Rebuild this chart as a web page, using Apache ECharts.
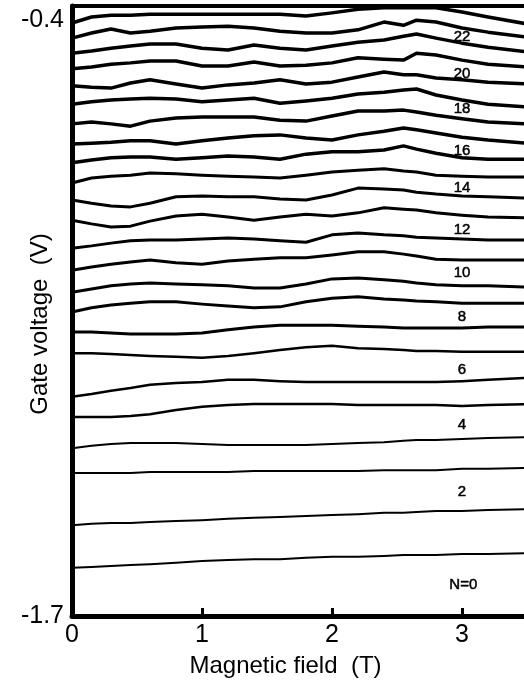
<!DOCTYPE html>
<html>
<head>
<meta charset="utf-8">
<script src="https://cdn.jsdelivr.net/npm/echarts@6/dist/echarts.min.js"></script>
<style>
html,body{margin:0;padding:0;background:#fff;}
#chart{width:524px;height:692px;}
</style>
</head>
<body>
<div id="chart"></div>
<script>
// Magnetic field grid (T)
const fieldT = [0, 0.15, 0.3, 0.45, 0.6, 0.8, 1.0, 1.2, 1.4, 1.6, 1.8, 2.0, 2.2, 2.4, 2.55, 2.65, 2.8, 3.0, 3.2, 3.5];

// Gate voltage (V) of each trace, top to bottom
const trace01 = [-0.407,-0.394,-0.390,-0.390,-0.388,-0.388,-0.388,-0.388,-0.388,-0.388,-0.392,-0.385,-0.377,-0.374,-0.374,-0.374,-0.374,-0.383,-0.394,-0.409];
const trace02 = [-0.440,-0.429,-0.420,-0.429,-0.425,-0.418,-0.416,-0.414,-0.418,-0.425,-0.429,-0.429,-0.422,-0.405,-0.412,-0.401,-0.405,-0.418,-0.427,-0.438];
const trace03 = [-0.473,-0.468,-0.462,-0.457,-0.453,-0.453,-0.462,-0.466,-0.455,-0.462,-0.466,-0.457,-0.449,-0.444,-0.436,-0.431,-0.440,-0.451,-0.460,-0.470];
const trace04 = [-0.507,-0.503,-0.497,-0.494,-0.490,-0.490,-0.501,-0.501,-0.492,-0.501,-0.499,-0.494,-0.483,-0.486,-0.488,-0.473,-0.477,-0.488,-0.497,-0.503];
const trace05 = [-0.544,-0.547,-0.549,-0.538,-0.531,-0.540,-0.549,-0.542,-0.538,-0.531,-0.540,-0.536,-0.525,-0.514,-0.520,-0.520,-0.527,-0.531,-0.536,-0.540];
const trace06 = [-0.584,-0.579,-0.575,-0.573,-0.571,-0.573,-0.579,-0.575,-0.571,-0.582,-0.577,-0.571,-0.562,-0.558,-0.553,-0.551,-0.564,-0.575,-0.584,-0.590];
const trace07 = [-0.627,-0.623,-0.627,-0.632,-0.621,-0.614,-0.612,-0.612,-0.612,-0.619,-0.621,-0.610,-0.599,-0.599,-0.597,-0.601,-0.608,-0.616,-0.623,-0.627];
const trace08 = [-0.671,-0.669,-0.667,-0.664,-0.664,-0.671,-0.664,-0.658,-0.653,-0.651,-0.658,-0.662,-0.651,-0.643,-0.636,-0.640,-0.647,-0.656,-0.662,-0.669];
const trace09 = [-0.712,-0.706,-0.701,-0.699,-0.699,-0.704,-0.701,-0.697,-0.699,-0.704,-0.693,-0.688,-0.688,-0.684,-0.675,-0.682,-0.691,-0.701,-0.704,-0.704];
const trace10 = [-0.756,-0.745,-0.741,-0.739,-0.734,-0.736,-0.739,-0.741,-0.743,-0.745,-0.739,-0.732,-0.728,-0.725,-0.730,-0.732,-0.739,-0.741,-0.743,-0.743];
const trace11 = [-0.793,-0.800,-0.806,-0.808,-0.800,-0.786,-0.784,-0.786,-0.786,-0.791,-0.793,-0.782,-0.767,-0.769,-0.771,-0.776,-0.780,-0.784,-0.786,-0.789];
const trace12 = [-0.837,-0.845,-0.852,-0.850,-0.839,-0.828,-0.824,-0.830,-0.837,-0.830,-0.824,-0.828,-0.821,-0.810,-0.813,-0.815,-0.821,-0.826,-0.830,-0.832];
const trace13 = [-0.898,-0.893,-0.887,-0.882,-0.880,-0.880,-0.878,-0.876,-0.878,-0.882,-0.885,-0.869,-0.865,-0.869,-0.871,-0.874,-0.876,-0.878,-0.880,-0.880];
const trace14 = [-0.946,-0.939,-0.933,-0.928,-0.924,-0.930,-0.933,-0.926,-0.922,-0.919,-0.919,-0.913,-0.906,-0.906,-0.911,-0.915,-0.922,-0.924,-0.924,-0.924];
const trace15 = [-0.994,-0.987,-0.980,-0.976,-0.974,-0.976,-0.978,-0.980,-0.985,-0.985,-0.976,-0.965,-0.963,-0.967,-0.970,-0.974,-0.978,-0.980,-0.980,-0.983];
const trace16 = [-1.037,-1.028,-1.022,-1.018,-1.015,-1.015,-1.020,-1.024,-1.028,-1.026,-1.015,-1.007,-1.004,-1.009,-1.011,-1.013,-1.015,-1.018,-1.018,-1.018];
const trace17 = [-1.081,-1.081,-1.083,-1.085,-1.085,-1.085,-1.083,-1.076,-1.070,-1.066,-1.066,-1.066,-1.068,-1.070,-1.072,-1.072,-1.072,-1.072,-1.070,-1.070];
const trace18 = [-1.127,-1.127,-1.129,-1.131,-1.133,-1.135,-1.137,-1.133,-1.127,-1.120,-1.114,-1.111,-1.116,-1.118,-1.120,-1.122,-1.122,-1.124,-1.124,-1.124];
const trace19 = [-1.222,-1.216,-1.209,-1.203,-1.196,-1.192,-1.190,-1.185,-1.185,-1.188,-1.190,-1.190,-1.190,-1.190,-1.190,-1.190,-1.190,-1.188,-1.185,-1.181];
const trace20 = [-1.266,-1.266,-1.266,-1.264,-1.260,-1.251,-1.244,-1.240,-1.238,-1.238,-1.238,-1.238,-1.240,-1.240,-1.240,-1.240,-1.240,-1.242,-1.240,-1.238];
const trace21 = [-1.334,-1.329,-1.325,-1.323,-1.323,-1.323,-1.325,-1.327,-1.327,-1.327,-1.327,-1.325,-1.323,-1.321,-1.318,-1.316,-1.316,-1.314,-1.312,-1.310];
const trace22 = [-1.388,-1.388,-1.388,-1.388,-1.386,-1.386,-1.386,-1.386,-1.384,-1.384,-1.384,-1.384,-1.384,-1.382,-1.382,-1.382,-1.382,-1.379,-1.379,-1.377];
const trace23 = [-1.502,-1.499,-1.497,-1.497,-1.495,-1.493,-1.491,-1.488,-1.486,-1.484,-1.482,-1.480,-1.478,-1.475,-1.475,-1.473,-1.471,-1.471,-1.469,-1.467];
const trace24 = [-1.595,-1.593,-1.591,-1.589,-1.587,-1.584,-1.580,-1.578,-1.576,-1.576,-1.573,-1.571,-1.571,-1.569,-1.567,-1.567,-1.567,-1.565,-1.565,-1.563];

const traces = [trace01,trace02,trace03,trace04,trace05,trace06,trace07,trace08,trace09,trace10,trace11,trace12,
                trace13,trace14,trace15,trace16,trace17,trace18,trace19,trace20,trace21,trace22,trace23,trace24];

// Level labels (filling factor N)
const levelLabels = ['22','20','18','16','14','12','10','8','6','4','2','N=0'];
const levelLabelT = [3.0,3.0,3.0,3.0,3.0,3.0,3.0,3.0,3.0,3.0,3.0,3.01];
const levelLabelV = [-0.438,-0.518,-0.595,-0.686,-0.767,-0.858,-0.952,-1.048,-1.164,-1.284,-1.430,-1.632];

// Axis tick labels
const xTickLabels = [0, 1, 2, 3];
const yTickLabels = [-1.7, -0.4];

const FONT = 'Liberation Sans, Arial, sans-serif';

function lineWidthFor(i){
  if (i < 9) return 3.5;
  if (i < 17) return 3;
  if (i < 20) return 2.5;
  return 2;
}

const series = traces.map((tr, i) => ({
  type: 'line',
  data: fieldT.map((t, k) => [t, tr[k]]),
  showSymbol: false,
  symbol: 'none',
  smooth: false,
  clip: true,
  lineStyle: { color: '#000', width: lineWidthFor(i), join: 'round', cap: 'round' },
  silent: true,
  z: 2
}));

series.push({
  type: 'scatter',
  symbolSize: 0,
  silent: true,
  itemStyle: { opacity: 1, color: '#000' },
  data: levelLabels.map((txt, i) => ({ name: txt, value: [levelLabelT[i], levelLabelV[i]] })),
  label: {
    show: true,
    position: 'inside',
    formatter: p => p.name,
    color: '#000',
    opacity: 1,
    textBorderWidth: 0.5,
    textBorderColor: '#000',
    fontFamily: FONT,
    fontSize: 15
  },
  z: 5
});

const chart = echarts.init(document.getElementById('chart'), null, { renderer: 'canvas' });
chart.setOption({
  animation: false,
  backgroundColor: '#fff',
  grid: { left: 72, right: -3, top: 6, bottom: 76, containLabel: false, outerBoundsMode: 'none' },
  xAxis: [{
    type: 'value',
    min: 0, max: 3.5, interval: 1,
    name: 'Magnetic field  (T)',
    nameLocation: 'middle',
    nameGap: 38,
    nameMoveOverlap: false,
    nameTextStyle: { fontFamily: FONT, fontSize: 24, color: '#000', padding: [0, 28, 0, 0] },
    axisLine: { lineStyle: { color: '#000', width: 5 } },
    axisTick: { show: true, inside: true, length: 8, lineStyle: { color: '#000', width: 3 } },
    axisLabel: {
      fontFamily: FONT, fontSize: 25, color: '#000', margin: 7,
      formatter: v => (xTickLabels.indexOf(v) >= 0 ? String(v) : '')
    },
    splitLine: { show: false }
  }, {
    type: 'value',
    position: 'top',
    min: 0, max: 3.5,
    axisLine: { show: true, lineStyle: { color: '#000', width: 4 } },
    axisTick: { show: false },
    axisLabel: { show: false },
    splitLine: { show: false }
  }],
  yAxis: {
    type: 'value',
    min: -1.7, max: -0.37, interval: 1.3,
    name: 'Gate voltage  (V)',
    nameLocation: 'middle',
    nameGap: 20,
    nameMoveOverlap: false,
    nameTextStyle: { fontFamily: FONT, fontSize: 24, color: '#000', padding: [0, 26, 0, 0] },
    axisLine: { show: true, lineStyle: { color: '#000', width: 5 } },
    axisTick: { show: false },
    axisLabel: {
      fontFamily: FONT, fontSize: 25, color: '#000', margin: 8,
      formatter: v => {
        for (const t of yTickLabels) { if (Math.abs(v - t) < 1e-6) return t.toFixed(1); }
        return '';
      }
    },
    splitLine: { show: false }
  },
  series: series
});
</script>
</body>
</html>
